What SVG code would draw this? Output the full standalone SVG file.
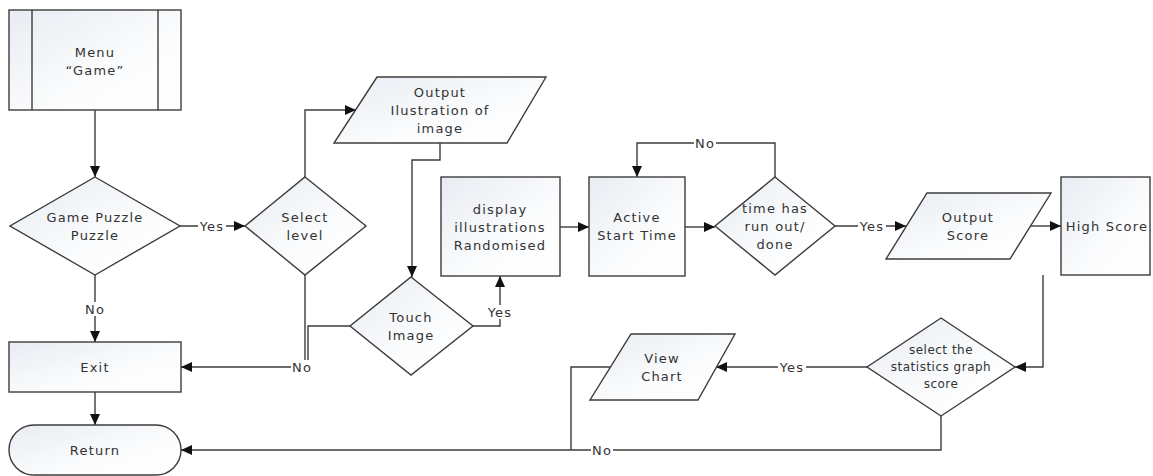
<svg xmlns="http://www.w3.org/2000/svg" width="1153" height="476" viewBox="0 0 1153 476">
<style>
.s{stroke:#3c3c3c;stroke-width:1.4;fill:url(#g)}
.ln{stroke:#3c3c3c;stroke-width:1.4;fill:none}
.c{stroke:#3c3c3c;stroke-width:1.4;fill:none;marker-end:url(#ah)}
text{font-family:"DejaVu Sans","Liberation Sans",sans-serif;font-size:13px;fill:#333;text-anchor:middle;dominant-baseline:central;letter-spacing:1.2px}
text.sm{font-size:12px;letter-spacing:0.5px}
.lb{fill:#fff;stroke:none}
</style>
<defs>
<linearGradient id="g" x1="0" y1="0" x2="1" y2="1">
<stop offset="0" stop-color="#e8ecf2"/>
<stop offset="0.6" stop-color="#fbfcfd"/>
<stop offset="1" stop-color="#ffffff"/>
</linearGradient>
<marker id="ah" markerUnits="userSpaceOnUse" markerWidth="12" markerHeight="12" refX="11" refY="6" orient="auto">
<path d="M0,1 L11,6 L0,11 z" fill="#111"/>
</marker>
</defs>
<rect width="1153" height="476" fill="#fff"/>

<g id="connectors">
<path class="c" d="M95,110 V177"/>
<path class="c" d="M180,226 H245"/>
<path class="c" d="M305,177 V110 H356"/>
<path class="c" d="M440,143 V160 H412 V277"/>
<path class="c" d="M473,326 H500 V276"/>
<path class="ln" d="M350,326 H308 V367"/>
<path class="c" d="M305,275 V367 H181"/>
<path class="c" d="M95,275 V342"/>
<path class="c" d="M95,392 V425"/>
<path class="c" d="M560,227 H589"/>
<path class="c" d="M685,227 H715"/>
<path class="c" d="M775,177 V143 H637 V177"/>
<path class="c" d="M835,226 H906"/>
<path class="c" d="M1030,226 H1061"/>
<path class="c" d="M1043,275 V367 H1015"/>
<path class="c" d="M867,367 H716"/>
<path class="ln" d="M610,367 H571 V450"/>
<path class="c" d="M941,416 V450 H181"/>
<g id="labels">
<rect class="lb" x="198" y="219" width="28" height="14"/><text x="212" y="226">Yes</text>
<rect class="lb" x="487" y="305" width="27" height="14"/><text x="500" y="312">Yes</text>
<rect class="lb" x="84" y="302" width="22" height="14"/><text x="95" y="309">No</text>
<rect class="lb" x="291" y="360" width="22" height="14"/><text x="302" y="367">No</text>
<rect class="lb" x="694" y="136" width="22" height="14"/><text x="705" y="143">No</text>
<rect class="lb" x="858" y="219" width="28" height="14"/><text x="872" y="226">Yes</text>
<rect class="lb" x="778" y="360" width="28" height="14"/><text x="792" y="367">Yes</text>
<rect class="lb" x="591" y="443" width="22" height="14"/><text x="602" y="450">No</text>
</g>
</g>

<g id="menu">
<rect class="s" x="9" y="10" width="172" height="100"/>
<path class="ln" d="M32,10 V110 M158,10 V110"/>
<text x="95" y="52">Menu</text>
<text x="95" y="70">“Game”</text>
</g>
<g id="gamepuzzle">
<polygon class="s" points="95,177 180,226 95,275 10,226"/>
<text x="95" y="217">Game Puzzle</text>
<text x="95" y="235">Puzzle</text>
</g>
<g id="selectlevel">
<polygon class="s" points="305,177 366,226 305,275 245,226"/>
<text x="305" y="217">Select</text>
<text x="305" y="235">level</text>
</g>
<g id="outputillustration">
<polygon class="s" points="377,77 546,77 507,143 334,143"/>
<text x="440" y="92">Output</text>
<text x="440" y="110">Ilustration of</text>
<text x="440" y="128">image</text>
</g>
<g id="touchimage">
<polygon class="s" points="411,277 473,326 411,375 350,326"/>
<text x="411" y="317">Touch</text>
<text x="411" y="335">Image</text>
</g>
<g id="exit">
<rect class="s" x="9" y="342" width="172" height="50"/>
<text x="95" y="367">Exit</text>
</g>
<g id="return">
<rect class="s" x="9" y="425" width="172" height="50" rx="25" ry="25"/>
<text x="95" y="450">Return</text>
</g>
<g id="display">
<rect class="s" x="441" y="177" width="119" height="99"/>
<text x="500" y="209">display</text>
<text x="500" y="227">illustrations</text>
<text x="500" y="245">Randomised</text>
</g>
<g id="active">
<rect class="s" x="589" y="177" width="96" height="99"/>
<text x="637" y="217">Active</text>
<text x="637" y="235">Start Time</text>
</g>
<g id="timeup">
<polygon class="s" points="775,177 835,226 775,275 715,226"/>
<text x="775" y="208">time has</text>
<text x="775" y="226">run out/</text>
<text x="775" y="244">done</text>
</g>
<g id="outputscore">
<polygon class="s" points="927,193 1051,193 1010,259 886,259"/>
<text x="968" y="217">Output</text>
<text x="968" y="235">Score</text>
</g>
<g id="highscore">
<rect class="s" x="1061" y="177" width="89" height="98"/>
<text x="1107" y="226">High Score</text>
</g>
<g id="selectstats">
<polygon class="s" points="941,318 1015,367 941,416 867,367"/>
<text class="sm" x="941" y="350">select the</text>
<text class="sm" x="941" y="367">statistics graph</text>
<text class="sm" x="941" y="384">score</text>
</g>
<g id="viewchart">
<polygon class="s" points="631,334 735,334 698,400 590,400"/>
<text x="662" y="358">View</text>
<text x="662" y="376">Chart</text>
</g>
</svg>
